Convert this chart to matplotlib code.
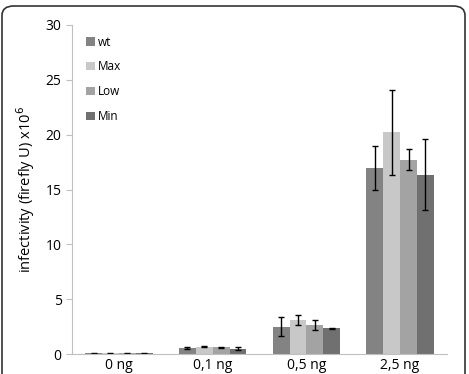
import matplotlib
matplotlib.use("Agg")
import matplotlib.pyplot as plt
import numpy as np
from matplotlib.patches import FancyBboxPatch

categories = ["0 ng", "0,1 ng", "0,5 ng", "2,5 ng"]
series = ["wt", "Max", "Low", "Min"]
wt = [0.05, 0.55, 2.5, 17.0]
mx = [0.05, 0.65, 3.1, 20.2]
low = [0.05, 0.6, 2.65, 17.7]
mn = [0.05, 0.5, 2.35, 16.35]
wt_err = [0.02, 0.05, 0.9, 2.0]
mx_err = [0.02, 0.04, 0.5, 3.9]
low_err = [0.02, 0.08, 0.45, 0.95]
mn_err = [0.02, 0.12, 0.04, 3.25]
colors = ["#838383", "#c8c8c8", "#a3a3a3", "#707070"]

plt.rcParams['font.family'] = ['Open Sans', 'DejaVu Sans']

fig = plt.figure(figsize=(4.69, 3.74), dpi=100)
ax = fig.add_axes([72/469, 1-354/374, (447-72)/469, (354-25)/374])

vals = [wt, mx, low, mn]
errs = [wt_err, mx_err, low_err, mn_err]
x = np.arange(len(categories))
w = 0.18
for i, (v, e, c, s) in enumerate(zip(vals, errs, colors, series)):
    ax.bar(x + (i - 1.5) * w, v, w, color=c, label=s,
           yerr=e, error_kw=dict(ecolor="black", elinewidth=1.0, capsize=2.5, capthick=1.0))

ax.set_xlim(-0.5, 3.5)
ax.set_ylim(0, 30)
ax.set_yticks([0, 5, 10, 15, 20, 25, 30])
ax.set_xticks(x)
ax.set_xticklabels(categories)
for sp in ["top", "right"]:
    ax.spines[sp].set_visible(False)
for sp in ["left", "bottom"]:
    ax.spines[sp].set_color("#bfbfbf")
ax.tick_params(axis="y", colors="#bfbfbf", labelcolor="black", labelsize=10, length=4, width=0.8)
ax.tick_params(axis="x", length=0, labelsize=10, pad=3)
ax.set_ylabel("infectivity (firefly U) x10$^{6}$", fontsize=10.5, labelpad=6)

ax.legend(loc="upper left", bbox_to_anchor=(0.01, 1.0), frameon=False, fontsize=8.5,
          handlelength=0.7, handleheight=0.7, handletextpad=0.3, labelspacing=1.0)

border = FancyBboxPatch((2/469, -0.05), 463/469, 1.05 - 6/374,
                        boxstyle="round,pad=0,rounding_size=0.025",
                        transform=fig.transFigure, fill=False, edgecolor="#333333",
                        linewidth=1.2, clip_on=False)
fig.patches.append(border)

fig.savefig("out.png", dpi=100)
